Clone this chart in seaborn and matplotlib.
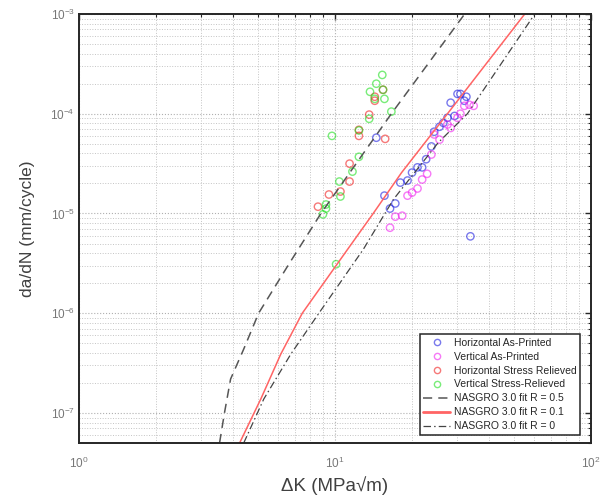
import numpy as np
import pandas as pd
import matplotlib
matplotlib.use("Agg")
import matplotlib.pyplot as plt
import seaborn as sns
from matplotlib.lines import Line2D
from matplotlib.ticker import LogLocator, LogFormatterSciNotation, NullFormatter

# ---------------- data ----------------
hap_K = [14.5, 15.6, 18.0, 17.2, 16.4, 30.1, 30.9, 32.6, 28.3, 32.0, 29.3, 27.5, 26.5,
         25.6, 24.4, 23.8, 22.7, 21.0, 21.9, 20.0, 19.2, 33.8]
hap_da = [5.75e-5, 1.51e-5, 2.04e-5, 1.26e-5, 1.12e-5, 1.58e-4, 1.58e-4, 1.48e-4, 1.29e-4,
          1.35e-4, 9.5e-5, 9.1e-5, 8.1e-5, 7.4e-5, 6.6e-5, 4.7e-5, 3.5e-5, 2.9e-5, 2.9e-5,
          2.57e-5, 2.14e-5, 5.9e-6]

vap_K = [17.2, 16.4, 32.0, 33.5, 34.8, 30.9, 30.1, 27.5, 28.3, 24.4, 25.6, 23.8, 22.9,
         21.9, 21.0, 20.0, 19.2, 18.3]
vap_da = [9.3e-6, 7.2e-6, 1.2e-4, 1.23e-4, 1.2e-4, 1.0e-4, 9.1e-5, 7.8e-5, 7.2e-5, 6.2e-5,
          5.5e-5, 3.9e-5, 2.5e-5, 2.19e-5, 1.78e-5, 1.62e-5, 1.51e-5, 9.5e-6]

hsr_K = [15.4, 14.3, 14.3, 13.6, 12.4, 12.4, 15.7, 11.4, 11.4, 10.5, 9.47, 8.58]
hsr_da = [1.74e-4, 1.48e-4, 1.35e-4, 9.8e-5, 6.9e-5, 6.0e-5, 5.6e-5, 3.16e-5, 2.09e-5,
          1.66e-5, 1.55e-5, 1.17e-5]

vsr_K = [15.3, 14.5, 13.7, 15.6, 16.6, 13.6, 9.73, 12.4, 11.7, 10.4, 10.5, 9.22, 9.22,
         8.97, 10.1, 14.3, 12.4, 15.4]
vsr_da = [2.45e-4, 2.0e-4, 1.66e-4, 1.41e-4, 1.05e-4, 8.9e-5, 6.0e-5, 3.7e-5, 2.63e-5,
          2.09e-5, 1.48e-5, 1.23e-5, 1.12e-5, 9.8e-6, 3.1e-6, 1.41e-4, 6.8e-5, 1.74e-4]

fit05_K = [3.54, 3.70, 3.91, 4.40, 5.03, 6.6, 8.81, 16.6, 32.1]
fit05_da = [5.0e-8, 1.0e-7, 2.19e-7, 4.37e-7, 1.0e-6, 3.1e-6, 1.0e-5, 1.0e-4, 1.0e-3]

fit01_K = [4.24, 5.13, 6.14, 7.45, 11.2, 14.1, 18.2, 27.5, 55.1]
fit01_da = [5.0e-8, 1.38e-7, 3.89e-7, 1.0e-6, 4.37e-6, 1.0e-5, 2.57e-5, 1.0e-4, 1.0e-3]

fit0_K = [4.40, 5.27, 6.72, 8.65, 12.9, 16.9, 25.3, 32.9, 60.3]
fit0_da = [5.0e-8, 1.38e-7, 3.89e-7, 1.0e-6, 4.37e-6, 1.38e-5, 5.13e-5, 1.0e-4, 1.0e-3]

series_names = ["Horizontal As-Printed", "Vertical As-Printed",
                "Horizontal Stress Relieved", "Vertical Stress-Relieved"]
fit_names = ["NASGRO 3.0 fit R = 0.5", "NASGRO 3.0 fit R = 0.1", "NASGRO 3.0 fit R = 0"]

# ---------------- style ----------------
sns.set_theme(style="white")
plt.rcParams['font.family'] = ['Liberation Sans', 'DejaVu Sans']
plt.rcParams['mathtext.fontset'] = 'custom'
plt.rcParams['mathtext.rm'] = 'Liberation Sans'

fig = plt.figure(figsize=(6.02, 4.95), dpi=100)
ax = fig.add_axes([79 / 602, 1 - 443 / 495, (591 - 79) / 602, (443 - 14) / 495])

pts = pd.concat([
    pd.DataFrame({"K": hap_K, "da": hap_da, "s": series_names[0]}),
    pd.DataFrame({"K": vap_K, "da": vap_da, "s": series_names[1]}),
    pd.DataFrame({"K": hsr_K, "da": hsr_da, "s": series_names[2]}),
    pd.DataFrame({"K": vsr_K, "da": vsr_da, "s": series_names[3]}),
], ignore_index=True)

colors = {series_names[0]: "#2020e0", series_names[1]: "#f020f0",
          series_names[2]: "#f02020", series_names[3]: "#20e020"}

fits = pd.concat([
    pd.DataFrame({"K": fit05_K, "da": fit05_da, "f": fit_names[0]}),
    pd.DataFrame({"K": fit01_K, "da": fit01_da, "f": fit_names[1]}),
    pd.DataFrame({"K": fit0_K, "da": fit0_da, "f": fit_names[2]}),
], ignore_index=True)

ax.set_xscale("log")
ax.set_yscale("log")

fit_style = {
    fit_names[0]: dict(color="#555555", linestyle=(0, (6, 4)), lw=1.1),
    fit_names[1]: dict(color="#ff6464", linestyle="-", lw=1.1),
    fit_names[2]: dict(color="#444444", linestyle=(0, (6, 2.5, 1.2, 2.5)), lw=0.9),
}
for name in fit_names:
    sub = fits[fits["f"] == name]
    sns.lineplot(data=sub, x="K", y="da", ax=ax, sort=False, estimator=None,
                 legend=False, **fit_style[name])

for name in series_names:
    sub = pts[pts["s"] == name]
    sns.scatterplot(data=sub, x="K", y="da", ax=ax, marker="o", s=28,
                    facecolor="none", edgecolor=colors[name], linewidth=1.0,
                    alpha=0.6, legend=False)

ax.set_xlim(1, 100)
ax.set_ylim(5e-8, 1e-3)

# grid
ax.grid(True, which="major", linestyle=":", color="#b0b0b0", lw=0.8)
ax.grid(True, which="minor", linestyle=":", color="#c4c4c4", lw=0.7)

ax.xaxis.set_major_locator(LogLocator(base=10, numticks=10))
ax.yaxis.set_major_locator(LogLocator(base=10, numticks=10))
ax.xaxis.set_minor_locator(LogLocator(base=10, subs=np.arange(2, 10), numticks=20))
ax.yaxis.set_minor_locator(LogLocator(base=10, subs=np.arange(2, 10), numticks=20))
ax.xaxis.set_minor_formatter(NullFormatter())
ax.yaxis.set_minor_formatter(NullFormatter())
ax.xaxis.set_major_formatter(LogFormatterSciNotation())
ax.yaxis.set_major_formatter(LogFormatterSciNotation())

ax.tick_params(which="major", direction="in", length=4, width=1.0, color="#262626",
               top=True, right=True, labelsize=8.5, labelcolor="#777777")
ax.tick_params(which="minor", direction="in", length=2.5, width=0.8, color="#262626",
               top=True, right=True)
ax.tick_params(axis="x", which="major", pad=9)
ax.tick_params(axis="y", which="major", pad=3)

for sp in ax.spines.values():
    sp.set_color("#262626")
    sp.set_linewidth(1.4)

ax.set_xlabel("ΔK (MPa√m)", fontsize=13.5, color="#404040", labelpad=4)
ax.set_ylabel("da/dN (mm/cycle)", fontsize=12.5, color="#404040", labelpad=11)

# legend
handles = []
for name in series_names:
    handles.append(Line2D([], [], linestyle="none", marker="o", markersize=4.5,
                          markerfacecolor="none", markeredgecolor=colors[name],
                          alpha=0.6, markeredgewidth=1.0, label=name))
for name in fit_names:
    st = fit_style[name]
    handles.append(Line2D([], [], color=st["color"], linestyle=st["linestyle"],
                          lw=st["lw"] + (0.9 if name == fit_names[1] else 0), label=name))
leg = ax.legend(handles=handles, loc="lower right",
                bbox_to_anchor=((580 - 79) / 512, (443 - 435) / 429),
                borderaxespad=0, fontsize=7.5, frameon=True, fancybox=False,
                edgecolor="#262626", framealpha=1, labelspacing=0.38,
                handlelength=2.6, handletextpad=0.3, borderpad=0.35)
leg.get_frame().set_linewidth(1.1)
for t in leg.get_texts():
    t.set_color("#262626")

fig.savefig("out.png", dpi=100)
